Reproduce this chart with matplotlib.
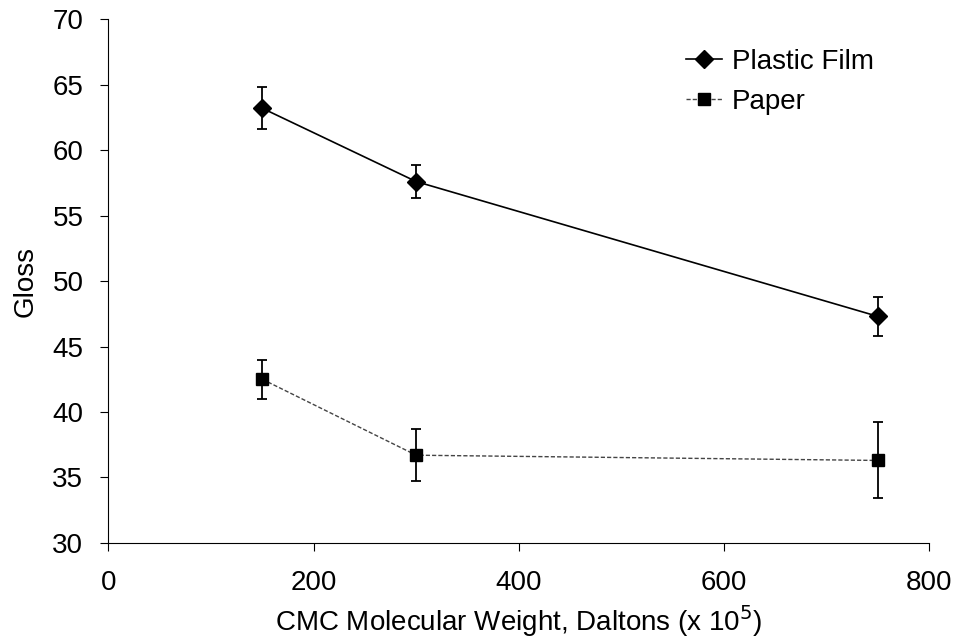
import matplotlib
matplotlib.use('Agg')
import matplotlib.pyplot as plt

plt.rcParams['font.family'] = ['Liberation Sans', 'DejaVu Sans']

# DATA
mw = [150, 300, 750]
film = [63.2, 57.6, 47.3]
film_err = [1.6, 1.25, 1.5]
paper = [42.5, 36.7, 36.3]
paper_err = [1.5, 2.0, 2.9]

fig = plt.figure(figsize=(9.59, 6.41), dpi=100)
ax = fig.add_axes([0.113, 0.153, 0.856, 0.817])

# error bars first, lines + markers on top
ax.errorbar(mw, film, yerr=film_err, fmt='none', ecolor='black',
            capsize=3.5, capthick=1.3, elinewidth=1.3)
ax.errorbar(mw, paper, yerr=paper_err, fmt='none', ecolor='black',
            capsize=3.5, capthick=1.3, elinewidth=1.3)
ax.plot(mw, film, color='black', lw=1.2, marker='D', ms=9, label='Plastic Film')
ax.plot(mw, paper, color='#444444', lw=1.0, ls=(0, (3, 1.5)), marker='s', ms=9,
        mfc='black', mec='black', label='Paper')

ax.set_xlim(0, 800)
ax.set_ylim(30, 70)
ax.set_xticks([0, 200, 400, 600, 800])
ax.set_yticks(range(30, 71, 5))
ax.spines['top'].set_visible(False)
ax.spines['right'].set_visible(False)
ax.tick_params(axis='y', labelsize=20, length=6, direction='out', pad=12)
ax.tick_params(axis='x', labelsize=20, length=6, direction='out', pad=13.5)
ax.set_xlabel('CMC Molecular Weight, Daltons (x 10$^5$)', fontsize=20, labelpad=5)
ax.set_ylabel('Gloss', fontsize=20, labelpad=10)

leg = ax.legend(loc='upper left', frameon=False, fontsize=20, handlelength=1.3,
                handletextpad=0.35, borderpad=0, labelspacing=0.5,
                bbox_to_anchor=(672 / 959, 1 - 35 / 641),
                bbox_transform=fig.transFigure)

fig.savefig('out.png', dpi=100)
